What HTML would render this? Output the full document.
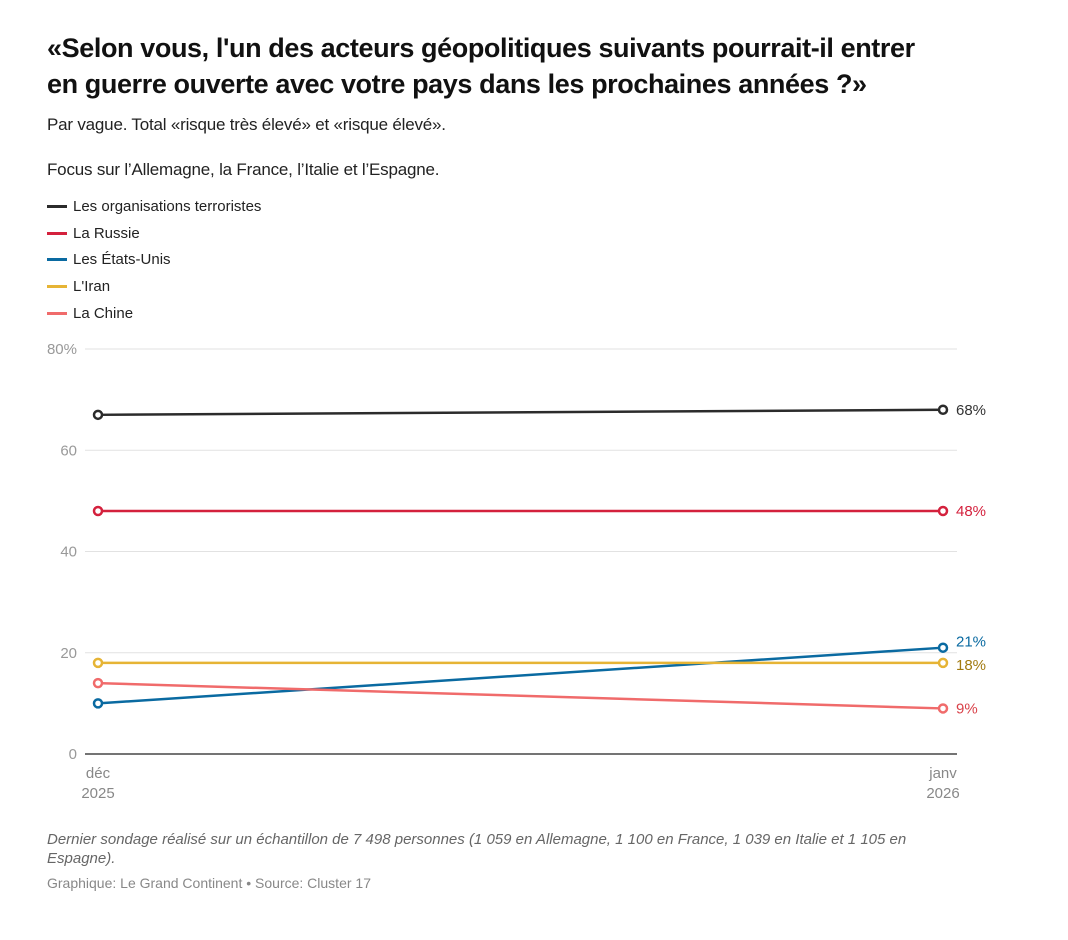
<!DOCTYPE html>
<html><head><meta charset="utf-8"><style>
body{margin:0;width:1068px;height:940px;background:#fff;font-family:"Liberation Sans",sans-serif;overflow:hidden}
.t{position:absolute;left:47px;top:30px;width:1000px;font-size:27px;font-weight:bold;line-height:36px;color:#111;letter-spacing:-0.4px}
.s{position:absolute;left:47px;font-size:17px;color:#222;letter-spacing:-0.2px}
.lg{position:absolute;left:47px;font-size:15px;color:#222;display:flex;align-items:center}
.lg span{display:inline-block;width:20px;height:3px;margin-right:6px}
.f{position:absolute;left:47px;width:905px;font-size:15px;font-style:italic;color:#666;line-height:19px}
</style></head><body>
<div class="t">«Selon vous, l'un des acteurs géopolitiques suivants pourrait-il entrer<br>en guerre ouverte avec votre pays dans les prochaines années ?»</div>
<div class="s" style="top:115px">Par vague. Total «risque très élevé» et «risque élevé».</div>
<div class="s" style="top:160px">Focus sur l’Allemagne, la France, l’Italie et l’Espagne.</div>
<div id="legend"></div>
<svg id="c" width="1068" height="940" style="position:absolute;left:0;top:0"></svg>
<div class="f" style="top:830px">Dernier sondage réalisé sur un échantillon de 7 498 personnes (1 059 en Allemagne, 1 100 en France, 1 039 en Italie et 1 105 en Espagne).</div>
<div class="f" style="top:874px;font-style:normal;font-size:14px;color:#888">Graphique: Le Grand Continent • Source: Cluster 17</div>
<script>
const categories=["déc|2025","janv|2026"];
const seriesNames=["Les organisations terroristes","La Russie","Les États-Unis","L'Iran","La Chine"];
const terror=[67,68];
const russia=[48,48];
const usa=[10,21];
const iran=[18,18];
const china=[14,9];
const yTicks=[0,20,40,60,80];
const values=[terror,russia,usa,iran,china];
const colors=["#2b2b2b","#d4213d","#0a6aa1","#e6b435","#f06b6b"];
const labelColors=["#333","#d4213d","#0a6aa1","#a27a10","#d9424a"];
const ns="http://www.w3.org/2000/svg",svg=document.getElementById('c');
const y=v=>754-v*(754-349)/80;
const x=i=>98+i*(943-98)/(categories.length-1);
function el(t,a,p){const e=document.createElementNS(ns,t);for(const k in a)e.setAttribute(k,a[k]);(p||svg).appendChild(e);return e;}
yTicks.forEach(t=>{
 const g=el('line',{x1:85,x2:957,y1:y(t),y2:y(t),stroke:t?'#e2e2e2':'#222','stroke-width':t?1:1.2});
 
 
 const tx=el('text',{x:77,y:y(t)+5,'text-anchor':'end','font-size':15,fill:'#999','font-family':'Liberation Sans'});
 tx.textContent=t+(t===80?'%':'');
 
 
});
categories.forEach((c,i)=>{
 c.split('|').forEach((p,j)=>{
  const tx=el('text',{x:x(i),y:778+j*20,'text-anchor':'middle','font-size':15,fill:'#888','font-family':'Liberation Sans'});
  tx.textContent=p;
  
  
 });
});
const lo=[0,0,-6,2,0];
values.forEach((vals,s)=>{
 const pl=el('polyline',{points:vals.map((v,i)=>x(i)+','+y(v)).join(' '),fill:'none',stroke:colors[s],'stroke-width':2.5});
 
 
 vals.forEach((v,i)=>{
  const c=el('circle',{cx:x(i),cy:y(v),r:4,fill:'#fff',stroke:colors[s],'stroke-width':2.5});
  
  
 });
 const last=vals[vals.length-1];
 const tx=el('text',{x:x(vals.length-1)+13,y:y(last)+5+lo[s],'font-size':15,fill:labelColors[s],'font-family':'Liberation Sans'});
 tx.textContent=last+'%';
 
 
 const d=document.createElement('div');d.className='lg';d.style.top=(198+s*26.7)+'px';
 d.innerHTML='<span style="background:'+colors[s]+'"></span>'+seriesNames[s];
 
 
 document.getElementById('legend').appendChild(d);
});
</script>
</body></html>
